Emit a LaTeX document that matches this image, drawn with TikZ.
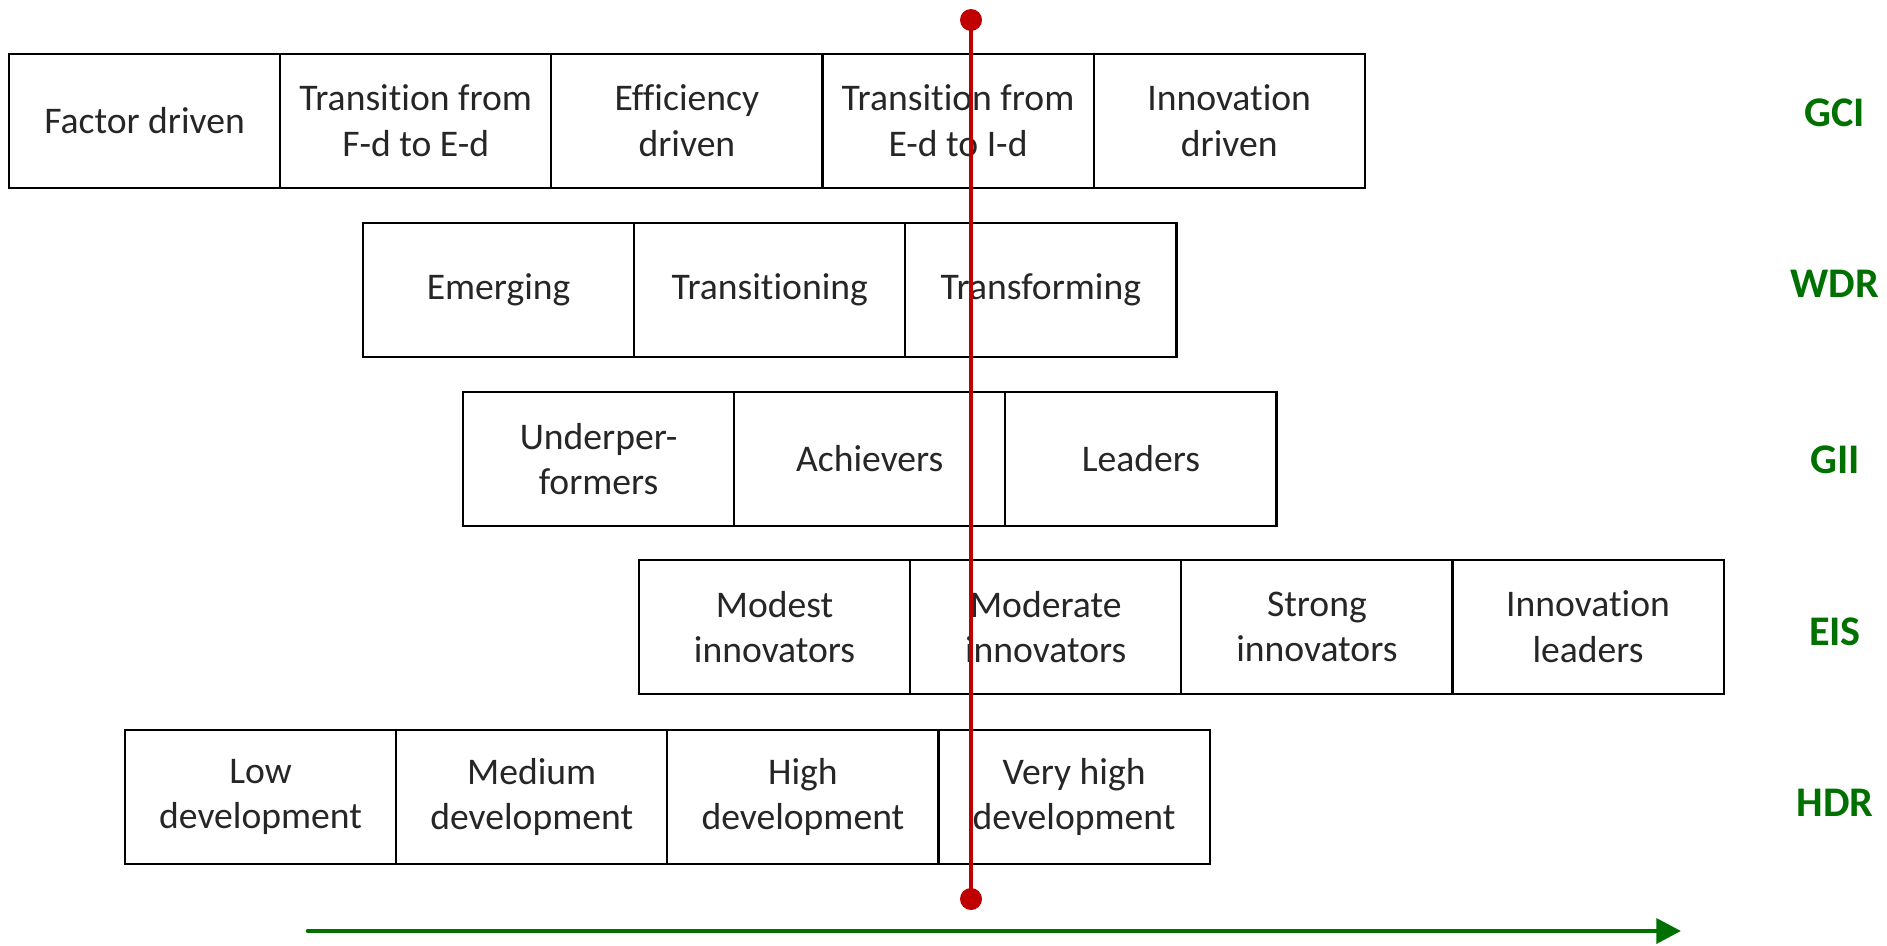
\documentclass[tikz,border=0pt]{standalone}
\usepackage{fontspec}
\setmainfont{Carlito}[Ligatures=NoCommon]
\usetikzlibrary{positioning,arrows.meta}
\definecolor{markred}{RGB}{192,0,0}
\definecolor{scalegreen}{RGB}{0,112,0}
\tikzset{
  stagebox/.style={draw, line width=0.6pt, minimum width=2.71cm, minimum height=1.34cm,
    inner sep=0pt, outer sep=0pt, align=center, font=\fontsize{10.7}{13}\selectfont,
    text=black!85, anchor=west},
  idxlabel/.style={text=scalegreen, font=\fontsize{12}{14}\selectfont\bfseries}
}
\begin{document}
\begin{tikzpicture}[x=0.01cm,y=-0.01cm]
\useasboundingbox (0,0) rectangle (1887,945);

% GCI
\node[stagebox] (g1) at (9,121) {Factor driven};
\node[stagebox, right=0pt of g1] (g2) {Transition from\\F-d to E-d};
\node[stagebox, right=0pt of g2] (g3) {Efficiency\\driven};
\node[stagebox, right=0pt of g3] (g4) {Transition from\\E-d to I-d};
\node[stagebox, right=0pt of g4] (g5) {Innovation\\driven};

% WDR
\node[stagebox] (w1) at (363,290) {Emerging};
\node[stagebox, right=0pt of w1] (w2) {Transitioning};
\node[stagebox, right=0pt of w2] (w3) {Transforming};

% GII
\node[stagebox] (i1) at (463,459) {Underper-\\formers};
\node[stagebox, right=0pt of i1] (i2) {Achievers};
\node[stagebox, right=0pt of i2] (i3) {Leaders};

% EIS
\node[stagebox] (e1) at (639,627) {Modest\\innovators};
\node[stagebox, right=0pt of e1] (e2) {Moderate\\innovators};
\node[stagebox, right=0pt of e2] (e3) {Strong\\innovators};
\node[stagebox, right=0pt of e3] (e4) {Innovation\\leaders};

% HDR
\node[stagebox] (h1) at (125,797) {Low\\development};
\node[stagebox, right=0pt of h1] (h2) {Medium\\development};
\node[stagebox, right=0pt of h2] (h3) {High\\development};
\node[stagebox, right=0pt of h3] (h4) {Very high\\development};

% index names
\node[idxlabel] (gci) at (1835,113) {GCI};
\node[idxlabel] (wdr) at (1835,284) {WDR};
\node[idxlabel] (gii) at (1835,460) {GII};
\node[idxlabel] (eis) at (1835,632) {EIS};
\node[idxlabel] (hdr) at (1835,803) {HDR};

% position marker
\coordinate (mtop) at (971,20);
\coordinate (mbot) at (971,899);
\draw[markred, line width=1.1pt] (mtop) -- (mbot);
\fill[markred] (mtop) circle (11);
\fill[markred] (mbot) circle (11);

% development axis
\coordinate (astart) at (308,931);
\coordinate (aend) at (1681,931);
\draw[scalegreen, line width=1.3pt, line cap=round, -{Triangle[length=7pt,width=7pt]}] (astart) -- (aend);
\end{tikzpicture}
\end{document}
